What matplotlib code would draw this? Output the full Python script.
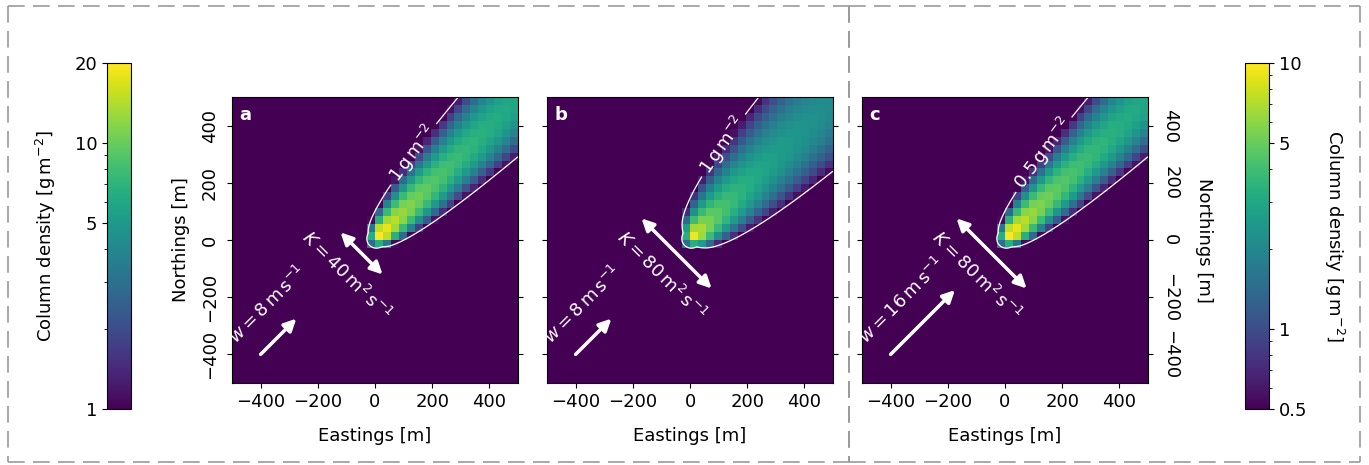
import math
import numpy as np
import matplotlib
matplotlib.use("Agg")
import matplotlib.pyplot as plt
from matplotlib.colors import LogNorm
from matplotlib.lines import Line2D
from matplotlib.ticker import FixedLocator, NullFormatter

plt.rcParams['font.family'] = ['DejaVu Sans']
FS = 13
plt.rcParams['font.size'] = FS

# ---- data (model parameters) ----
panel_letters = ['a', 'b', 'c']
wind_speeds = [8, 8, 16]            # m s^-1
diffusivities = [40, 80, 80]        # m^2 s^-1
contour_levels = [1.0, 1.0, 0.5]    # g m^-2
contour_labels = ['1', '1', '0.5']
emission_rate = 10000.0             # g s^-1
source_sigma = 14.0                 # m, initial plume width
wind_direction_deg = 45.0           # plume axis (from east, counter-clockwise)
norm_ranges = [(1, 20), (1, 20), (0.5, 10)]
cbar_left_ticks = [1, 5, 10, 20]
cbar_left_minor = [2, 3, 4, 6, 7, 8, 9]
cbar_right_ticks = [0.5, 1, 5, 10]
cbar_right_minor = [0.6, 0.7, 0.8, 0.9, 2, 3, 4, 6, 7, 8, 9]
axis_ticks = [-400, -200, 0, 200, 400]
extent = 500.0
n_cells = 36

W, H = 1369, 465
fig = plt.figure(figsize=(W / 100, H / 100), dpi=100)


def fpos(x0, y0, x1, y1):
    return [x0 / W, 1 - y1 / H, (x1 - x0) / W, (y1 - y0) / H]


erf_v = np.vectorize(math.erf)


def plume(X, Y, w, K):
    th = np.deg2rad(wind_direction_deg)
    S = X * np.cos(th) + Y * np.sin(th)
    N = -X * np.sin(th) + Y * np.cos(th)
    sig2 = source_sigma ** 2 + 2 * K * np.maximum(S, 0) / w
    sig = np.sqrt(sig2)
    fac = 0.5 * (1 + erf_v(S / (np.sqrt(2) * source_sigma)))
    return emission_rate / (w * np.sqrt(2 * np.pi) * sig) * np.exp(-N ** 2 / (2 * sig2)) * fac


fine = np.linspace(-extent, extent, 401)
FX, FY = np.meshgrid(fine, fine)
cell_edges = np.linspace(-extent, extent, n_cells + 1)
cell_c = 0.5 * (cell_edges[:-1] + cell_edges[1:])
CX, CY = np.meshgrid(cell_c, cell_c)

panel_px = [(232, 518), (547, 833), (862, 1148)]
top_px, bot_px = 97, 383
label_pos = [(129, 304), (129, 322), (147, 290)]

for i in range(3):
    w = wind_speeds[i]
    K = diffusivities[i]
    field = plume(FX, FY, w, K)
    cells = plume(CX, CY, w, K)
    vmin, vmax = norm_ranges[i]
    x0, x1 = panel_px[i]
    ax = fig.add_axes(fpos(x0, top_px, x1, bot_px))
    mesh = ax.pcolormesh(cell_edges, cell_edges, np.maximum(cells, vmin * 0.5),
                         cmap='viridis', norm=LogNorm(vmin=vmin, vmax=vmax))
    if i == 0:
        mesh_left = mesh
    if i == 2:
        mesh_right = mesh
    cs = ax.contour(fine, fine, field, levels=[contour_levels[i]],
                    colors='white', linewidths=0.9)
    lab = contour_labels[i] + r'$\,$g$\,$m$^{-2}$'
    ax.clabel(cs, fmt={contour_levels[i]: lab}, inline=True, fontsize=FS,
              manual=[label_pos[i]], colors='white')
    ax.set_xlim(-extent, extent)
    ax.set_ylim(-extent, extent)
    ax.set_aspect('auto')
    ax.set_xticks(axis_ticks)
    ax.set_yticks(axis_ticks)
    ax.set_xlabel('Eastings [m]', labelpad=12)
    ax.tick_params(left=True, right=True, labelsize=FS)
    if i == 0:
        ax.tick_params(axis='y', labelrotation=90, pad=6)
        plt.setp(ax.get_yticklabels(), va='center')
        ax.set_ylabel('Northings [m]', labelpad=8)
    elif i == 1:
        ax.tick_params(axis='y', labelleft=False)
    else:
        ax.yaxis.set_label_position('right')
        ax.tick_params(axis='y', labelleft=False, labelright=True, labelrotation=270, pad=6)
        plt.setp(ax.get_yticklabels(), va='center')
        ax.set_ylabel('Northings [m]', rotation=270, labelpad=24)
    ax.text(0.025, 0.97, panel_letters[i], transform=ax.transAxes, color='white',
            fontweight='bold', fontsize=FS, ha='left', va='top')
    # wind arrow
    wl = 12.5 * w + 25
    ax.annotate('', xy=(-400 + wl, -400 + wl), xytext=(-400, -400),
                arrowprops=dict(arrowstyle='-|>', color='white', lw=2.5,
                                mutation_scale=18, shrinkA=0, shrinkB=0))
    ax.text(-475, -375, r'$w = %d\,\mathrm{m\,s^{-1}}$' % w, color='white',
            rotation=45, rotation_mode='anchor', ha='left', va='bottom', fontsize=FS)
    # diffusion arrow
    kl = 1.225 * K + 24.5
    c0 = -47
    ax.annotate('', xy=(c0 + kl, c0 - kl), xytext=(c0 - kl, c0 + kl),
                arrowprops=dict(arrowstyle='<|-|>', color='white', lw=2.5,
                                mutation_scale=18, shrinkA=0, shrinkB=0))
    ax.text(-222, 45, r'$K = %d\,\mathrm{m^2\,s^{-1}}$' % K, color='white',
            rotation=-45, rotation_mode='anchor', ha='left', va='top', fontsize=FS)

cbar_label = r'Column density [g$\,$m$^{-2}$]'
cax1 = fig.add_axes(fpos(107, 63, 131, 409))
cb1 = fig.colorbar(mesh_left, cax=cax1)
cax1.yaxis.set_ticks_position('left')
cax1.yaxis.set_label_position('left')
cb1.set_ticks(cbar_left_ticks)
cb1.set_ticklabels([str(t) for t in cbar_left_ticks])
cax1.yaxis.set_minor_locator(FixedLocator(cbar_left_minor))
cax1.yaxis.set_minor_formatter(NullFormatter())
cb1.set_label(cbar_label, fontsize=FS, labelpad=12)
cax1.tick_params(labelsize=FS)

cax2 = fig.add_axes(fpos(1245, 63, 1269, 409))
cb2 = fig.colorbar(mesh_right, cax=cax2)
cb2.set_ticks(cbar_right_ticks)
cb2.set_ticklabels([('%g' % t) for t in cbar_right_ticks])
cax2.yaxis.set_minor_locator(FixedLocator(cbar_right_minor))
cax2.yaxis.set_minor_formatter(NullFormatter())
cb2.set_label(cbar_label, fontsize=FS, rotation=270, labelpad=28)
cax2.tick_params(labelsize=FS)

# dashed frames
def fline(xs, ys):
    fig.add_artist(Line2D([x / W for x in xs], [1 - y / H for y in ys],
                          transform=fig.transFigure, color='#999999', lw=1.2,
                          linestyle=(0, (10, 5))))

for (xa, xb) in [(8, 849), (849, 1360)]:
    fline([xa, xb], [6, 6])
    fline([xa, xb], [462, 462])
    fline([xa, xa], [6, 462])
    fline([xb, xb], [6, 462])

fig.savefig('out.png', dpi=100)
